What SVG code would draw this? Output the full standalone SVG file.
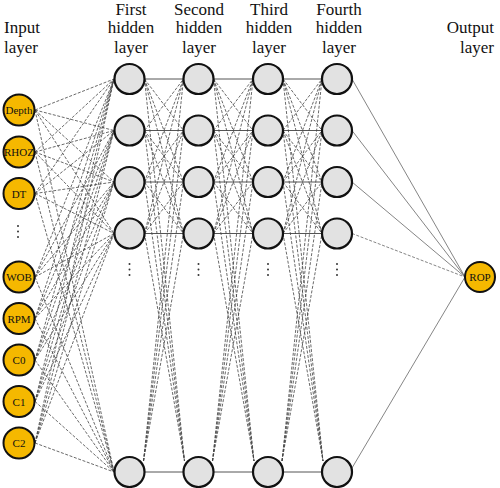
<svg xmlns="http://www.w3.org/2000/svg" width="500" height="488" viewBox="0 0 500 488">
<style>
.lbl{font-family:"Liberation Serif","Times New Roman",serif;font-size:17px;fill:#111}
.nt{font-family:"Liberation Serif","Times New Roman",serif;font-size:11px;fill:#111;text-anchor:middle;dominant-baseline:central}
.in{fill:#F5B800;stroke:#111;stroke-width:2}
.hid{fill:#E2E2E2;stroke:#111;stroke-width:2.2}
.d{stroke:#444;stroke-width:0.8;stroke-dasharray:3 1.6;fill:none}
.s{stroke:#555;stroke-width:1;fill:none}
.o{stroke:#666;stroke-width:0.8;fill:none}
.dot{fill:#333}
</style>
<rect width="500" height="488" fill="#fff"/>
<g id="labels">
<text class="lbl" x="4" y="33">Input</text>
<text class="lbl" x="4" y="52.5">layer</text>
<text class="lbl" x="131" y="14.5" text-anchor="middle">First</text>
<text class="lbl" x="131" y="33" text-anchor="middle">hidden</text>
<text class="lbl" x="131" y="52.5" text-anchor="middle">layer</text>
<text class="lbl" x="199" y="14.5" text-anchor="middle">Second</text>
<text class="lbl" x="199" y="33" text-anchor="middle">hidden</text>
<text class="lbl" x="199" y="52.5" text-anchor="middle">layer</text>
<text class="lbl" x="269" y="14.5" text-anchor="middle">Third</text>
<text class="lbl" x="269" y="33" text-anchor="middle">hidden</text>
<text class="lbl" x="269" y="52.5" text-anchor="middle">layer</text>
<text class="lbl" x="339" y="14.5" text-anchor="middle">Fourth</text>
<text class="lbl" x="339" y="33" text-anchor="middle">hidden</text>
<text class="lbl" x="339" y="52.5" text-anchor="middle">layer</text>
<text class="lbl" x="494" y="33" text-anchor="end">Output</text>
<text class="lbl" x="494" y="52.5" text-anchor="end">layer</text>
</g>
<g id="connectors">
<g class="d">
<path d="M35 110L114 79M35 110L114 130.5M35 110L114 182M35 110L114 233.5M35 110L114 472"/>
<path d="M35 152L114 79M35 152L114 130.5M35 152L114 182M35 152L114 233.5M35 152L114 472"/>
<path d="M35 193.5L114 79M35 193.5L114 130.5M35 193.5L114 182M35 193.5L114 233.5M35 193.5L114 472"/>
<path d="M35 277L114 79M35 277L114 130.5M35 277L114 182M35 277L114 233.5M35 277L114 472"/>
<path d="M35 318.5L114 79M35 318.5L114 130.5M35 318.5L114 182M35 318.5L114 233.5M35 318.5L114 472"/>
<path d="M35 360L114 79M35 360L114 130.5M35 360L114 182M35 360L114 233.5M35 360L114 472"/>
<path d="M35 401.5L114 79M35 401.5L114 130.5M35 401.5L114 182M35 401.5L114 233.5M35 401.5L114 472"/>
<path d="M35 443L114 79M35 443L114 130.5M35 443L114 182M35 443L114 233.5M35 443L114 472"/>
</g>
<g class="s">
<path d="M144.5 79H183.5M213.5 79H253M283 79H322"/>
<path d="M144.5 130.5H183.5M213.5 130.5H253M283 130.5H322"/>
<path d="M144.5 182H183.5M213.5 182H253M283 182H322"/>
<path d="M144.5 233.5H183.5M213.5 233.5H253M283 233.5H322"/>
<path d="M144.5 472H183.5M213.5 472H253M283 472H322"/>
</g>
<g class="d">
<path d="M144.5 79L183.5 130.5M144.5 79L183.5 182M144.5 79L183.5 233.5M144.5 79L184.5 461M144.5 130.5L183.5 79M144.5 130.5L183.5 182M144.5 130.5L183.5 233.5M144.5 130.5L184.5 461M144.5 182L183.5 79M144.5 182L183.5 130.5M144.5 182L183.5 233.5M144.5 182L184.5 461M144.5 233.5L183.5 79M144.5 233.5L183.5 130.5M144.5 233.5L183.5 182M144.5 233.5L184.5 461M143.5 461L183.5 79M143.5 461L183.5 130.5M143.5 461L183.5 182M143.5 461L183.5 233.5"/>
<path d="M213.5 79L253 130.5M213.5 79L253 182M213.5 79L253 233.5M213.5 79L254 461M213.5 130.5L253 79M213.5 130.5L253 182M213.5 130.5L253 233.5M213.5 130.5L254 461M213.5 182L253 79M213.5 182L253 130.5M213.5 182L253 233.5M213.5 182L254 461M213.5 233.5L253 79M213.5 233.5L253 130.5M213.5 233.5L253 182M213.5 233.5L254 461M212.5 461L253 79M212.5 461L253 130.5M212.5 461L253 182M212.5 461L253 233.5"/>
<path d="M283 79L322 130.5M283 79L322 182M283 79L322 233.5M283 79L323 461M283 130.5L322 79M283 130.5L322 182M283 130.5L322 233.5M283 130.5L323 461M283 182L322 79M283 182L322 130.5M283 182L322 233.5M283 182L323 461M283 233.5L322 79M283 233.5L322 130.5M283 233.5L322 182M283 233.5L323 461M282 461L322 79M282 461L322 130.5M282 461L322 182M282 461L322 233.5"/>
</g>
<g class="o">
<path d="M352 79L465 277M352 130.5L465 277M352 182L465 277M352 468L465 277"/>
<path d="M352 233.5L465 277" stroke-dasharray="3 1.6"/>
</g>
</g>
<g id="dots">
<circle class="dot" cx="18" cy="226" r="1"/><circle class="dot" cx="18" cy="231.5" r="1"/><circle class="dot" cx="18" cy="237" r="1"/>
<circle class="dot" cx="129.5" cy="264" r="1"/><circle class="dot" cx="129.5" cy="269.5" r="1"/><circle class="dot" cx="129.5" cy="275" r="1"/>
<circle class="dot" cx="198.5" cy="264" r="1"/><circle class="dot" cx="198.5" cy="269.5" r="1"/><circle class="dot" cx="198.5" cy="275" r="1"/>
<circle class="dot" cx="268" cy="264" r="1"/><circle class="dot" cx="268" cy="269.5" r="1"/><circle class="dot" cx="268" cy="275" r="1"/>
<circle class="dot" cx="337" cy="264" r="1"/><circle class="dot" cx="337" cy="269.5" r="1"/><circle class="dot" cx="337" cy="275" r="1"/>
</g>
<g id="input-nodes">
<g id="in-depth"><circle class="in" cx="19" cy="110" r="15.5"/><text class="nt" x="19" y="110">Depth</text></g>
<g id="in-rhoz"><circle class="in" cx="19" cy="152" r="15.5"/><text class="nt" x="19" y="152">RHOZ</text></g>
<g id="in-dt"><circle class="in" cx="19" cy="193.5" r="15.5"/><text class="nt" x="19" y="193.5">DT</text></g>
<g id="in-wob"><circle class="in" cx="19" cy="277" r="15.5"/><text class="nt" x="19" y="277">WOB</text></g>
<g id="in-rpm"><circle class="in" cx="19" cy="318.5" r="15.5"/><text class="nt" x="19" y="318.5">RPM</text></g>
<g id="in-c0"><circle class="in" cx="19" cy="360" r="15.5"/><text class="nt" x="19" y="360">C0</text></g>
<g id="in-c1"><circle class="in" cx="19" cy="401.5" r="15.5"/><text class="nt" x="19" y="401.5">C1</text></g>
<g id="in-c2"><circle class="in" cx="19" cy="443" r="15.5"/><text class="nt" x="19" y="443">C2</text></g>
</g>
<g id="hidden-nodes">
<g id="h1"><circle class="hid" cx="129.5" cy="79" r="15"/><circle class="hid" cx="129.5" cy="130.5" r="15"/><circle class="hid" cx="129.5" cy="182" r="15"/><circle class="hid" cx="129.5" cy="233.5" r="15"/><circle class="hid" cx="129.5" cy="472" r="15"/></g>
<g id="h2"><circle class="hid" cx="198.5" cy="79" r="15"/><circle class="hid" cx="198.5" cy="130.5" r="15"/><circle class="hid" cx="198.5" cy="182" r="15"/><circle class="hid" cx="198.5" cy="233.5" r="15"/><circle class="hid" cx="198.5" cy="472" r="15"/></g>
<g id="h3"><circle class="hid" cx="268" cy="79" r="15"/><circle class="hid" cx="268" cy="130.5" r="15"/><circle class="hid" cx="268" cy="182" r="15"/><circle class="hid" cx="268" cy="233.5" r="15"/><circle class="hid" cx="268" cy="472" r="15"/></g>
<g id="h4"><circle class="hid" cx="337" cy="79" r="15"/><circle class="hid" cx="337" cy="130.5" r="15"/><circle class="hid" cx="337" cy="182" r="15"/><circle class="hid" cx="337" cy="233.5" r="15"/><circle class="hid" cx="337" cy="472" r="15"/></g>
</g>
<g id="output-node"><circle class="in" cx="480" cy="277" r="15"/><text class="nt" x="480" y="277">ROP</text></g>
</svg>
